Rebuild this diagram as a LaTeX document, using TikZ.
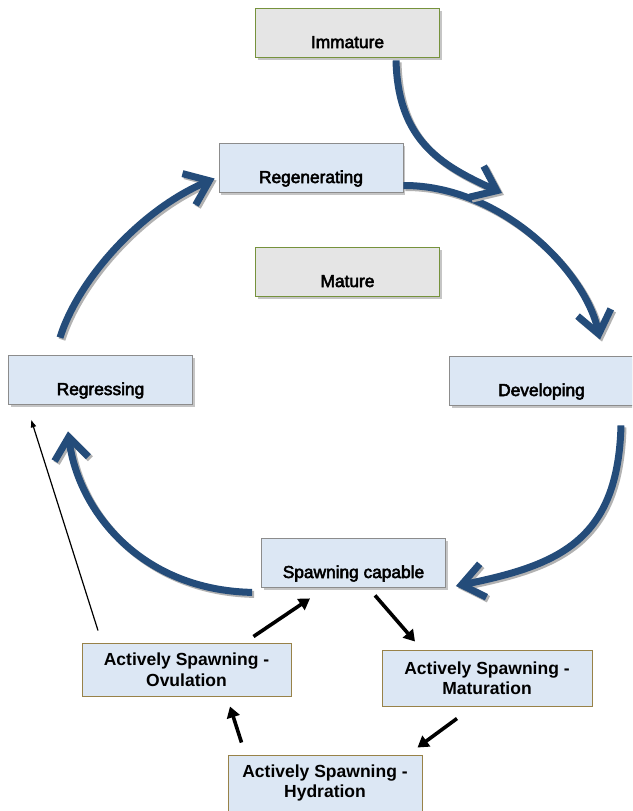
\documentclass[tikz,border=0pt]{standalone}
\usepackage{fontspec}
\setmainfont{Liberation Sans}
\newfontfamily\phasefont{Liberation Sans}[FakeBold=3]
\usetikzlibrary{arrows.meta,shadows}
\definecolor{cycleblue}{RGB}{36,76,122}
\definecolor{boxblue}{RGB}{220,231,244}
\definecolor{boxgrey}{RGB}{229,229,229}
\definecolor{edgegrey}{RGB}{140,140,140}
\definecolor{edgegreen}{RGB}{118,146,60}
\definecolor{edgegold}{RGB}{152,130,72}

\tikzset{
phase/.style={draw=edgegrey, fill=boxblue, line width=0.8pt, minimum width=184pt,
  inner xsep=4pt, inner ysep=4pt, text height=36pt, text depth=5pt,
  font=\phasefont\fontsize{17.3}{20.5}\selectfont,
  drop shadow={shadow xshift=2pt, shadow yshift=-2.5pt, opacity=0.45}},
greyphase/.style={phase, draw=edgegreen, fill=boxgrey},
subphase/.style={draw=edgegold, fill=boxblue, line width=1pt, align=center, inner sep=0pt,
  font=\bfseries\fontsize{17.5}{20.5}\selectfont},
cyclearrow/.style={draw=cycleblue, line width=7pt, -{Straight Barb[length=22pt,width=34pt]},
  preaction={draw=black!30, line width=7pt, transform canvas={shift={(2pt,-2pt)}}}},
steparrow/.style={line width=3.6pt, -{Triangle[length=11pt,width=13pt]}}
}

\begin{document}
\begin{tikzpicture}[x=1pt,y=-1pt]
\clip (0,0) rectangle (632,811);
\fill [white] (0,0) rectangle (632,811);

\node [greyphase] (imm) at (347.5,32.5) {Immature};
\node [phase] (regen) at (311,167.5) {Regenerating};
\node [greyphase] (mature) at (347.5,271.5) {Mature};
\node [phase] (regress) at (100.5,379.5) {Regressing};
\node [phase] (dev) at (541.5,380.5) {Developing};
\node [phase] (spawn) at (353.5,562.5) {Spawning capable};

\node [subphase, minimum width=209pt, minimum height=53pt] (ovul) at (186.5,669.5) {Actively Spawning -\\Ovulation};
\node [subphase, minimum width=210pt, minimum height=56pt] (matur) at (487,678) {Actively Spawning -\\Maturation};
\node [subphase, minimum width=194pt, minimum height=56pt] (hydr) at (325,783) {Actively Spawning -\\Hydration};

\coordinate (immtip) at (502,193);

% the big cycle
\draw [cyclearrow] ([yshift=-18pt]regen.east) .. controls (500,185) and (585,270) .. ([xshift=58.5pt,yshift=16pt]dev.north);
\draw [cyclearrow] ([xshift=48.5pt,yshift=-3pt]imm.south) .. controls (398,140) and (440,165) .. (immtip);
\draw [cyclearrow] ([xshift=79.5pt,yshift=-20pt]dev.south) .. controls (618,540) and (560,565) .. ([xshift=10pt,yshift=-23.5pt]spawn.east);
\draw [cyclearrow] ([xshift=-9pt,yshift=-5pt]spawn.south west) .. controls (140,590) and (78,510) .. ([xshift=-32.5pt,yshift=-27pt]regress.south);
\draw [cyclearrow] ([xshift=-40.5pt,yshift=17pt]regress.north) .. controls (78,280) and (140,210) .. ([xshift=-4pt,yshift=-11pt]regen.west);

% actively spawning
\draw [line width=1.2pt, -{Latex[length=8pt,width=6pt]}] ([xshift=-88.5pt,yshift=12pt]ovul.north) -- ([xshift=23pt,yshift=-15pt]regress.south west);
\draw [steparrow] ([xshift=-38pt,yshift=6pt]ovul.north east) -- ([xshift=-43.5pt,yshift=-11pt]spawn.south);
\draw [steparrow] ([xshift=21.5pt,yshift=-8pt]spawn.south) -- ([xshift=-72pt,yshift=8pt]matur.north);
\draw [steparrow] ([xshift=-30pt,yshift=-12pt]matur.south) -- ([xshift=-5pt,yshift=7pt]hydr.north east);
\draw [steparrow] ([xshift=14pt,yshift=12pt]hydr.north west) -- ([xshift=43.5pt,yshift=-10pt]ovul.south);

\end{tikzpicture}
\end{document}
